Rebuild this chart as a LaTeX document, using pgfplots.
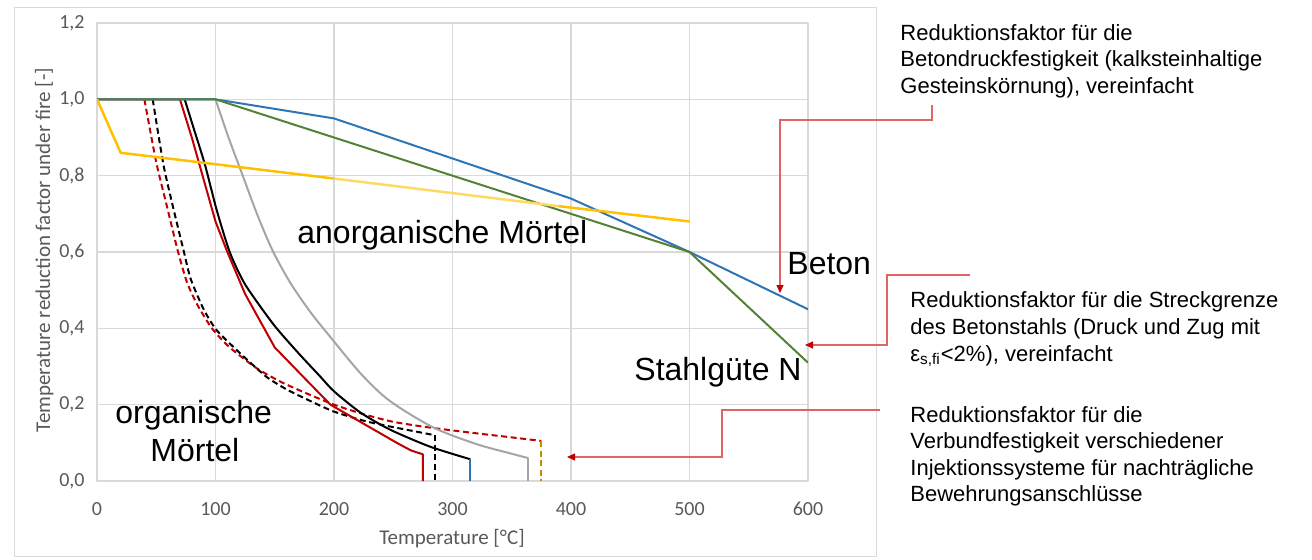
\documentclass[border=0pt]{standalone}
\usepackage{fontspec}
\setmainfont{Liberation Sans}
\newfontfamily\calibri{Carlito}
\usepackage{pgfplots}
\pgfplotsset{compat=1.18}
\usetikzlibrary{arrows.meta}
\definecolor{gridgray}{HTML}{D9D9D9}
\definecolor{ticktext}{HTML}{595959}
\definecolor{xlblue}{HTML}{2E75B6}
\definecolor{xlgreen}{HTML}{548235}
\definecolor{xlyellow}{HTML}{FFC000}
\definecolor{xlpale}{HTML}{FFD966}
\definecolor{xlred}{HTML}{C00000}
\definecolor{xlgray}{HTML}{A5A5A5}
\definecolor{xlochre}{HTML}{BF8F00}
\definecolor{calloutline}{HTML}{E06666}

\begin{document}
\begin{tikzpicture}
\path[use as bounding box] (0,0) rectangle (656pt,279.5pt);
\draw[gridgray, line width=0.5pt] (7pt,1.5pt) rectangle (438pt,276pt);
\begin{axis}[
  at={(48.5pt,39pt)}, anchor=south west,
  scale only axis, width=355.5pt, height=229pt,
  xmin=0, xmax=600, ymin=0, ymax=1.2,
  xtick={0,100,200,300,400,500,600},
  ytick={0,0.2,0.4,0.6,0.8,1.0,1.2},
  grid=major,
  major grid style={gridgray, line width=0.75pt},
  axis line style={gridgray, line width=0.75pt},
  major tick length=0pt,
  /pgf/number format/assume math mode=true,
  tick label style={font=\calibri\fontsize{10}{12}\selectfont, text=ticktext},
  xticklabel style={yshift=-7pt},
  yticklabel style={xshift=-2.7pt, /pgf/number format/.cd, use comma, fixed, fixed zerofill, precision=1},
  line join=round,
  dashed mortar/.style={line width=1pt, dash pattern=on 3pt off 1.8pt},
]
% organic mortars (dashed)
\addplot[xlred, dashed mortar] coordinates {(0,1) (40,1)};
\addplot[xlred, dashed mortar, smooth, tension=0.4] coordinates {
  (40,1) (50,0.835) (59,0.72) (68,0.605) (76,0.52) (85,0.46) (97,0.40)
  (112,0.35) (135,0.295) (155,0.26) (175,0.232) (200,0.2) (225,0.175)
  (250,0.155) (281,0.14) (320,0.125) (348,0.115) (375,0.105)};
\addplot[black, dashed mortar] coordinates {(0,1) (47,1)};
\addplot[black, dashed mortar, smooth, tension=0.4] coordinates {
  (47,1) (56,0.83) (64,0.72) (73,0.605) (79,0.53) (90,0.45) (101,0.395)
  (121,0.334) (143,0.273) (160,0.24) (175,0.217) (199,0.183) (225,0.158)
  (247,0.143) (285,0.12)};
\addplot[black, dashed mortar] coordinates {(285,0.12) (285,0)};
\addplot[xlochre, dashed mortar] coordinates {(375,0.105) (375,0)};
% inorganic mortars
\addplot[xlred, line width=1pt] coordinates {
  (0,1) (70,1) (80,0.9) (90,0.79) (100,0.68) (110,0.6) (125,0.49) (150,0.35)
  (175,0.27) (197,0.2) (225,0.15) (253,0.1) (265,0.08) (275,0.07) (275,0)};
\addplot[black, line width=1pt] coordinates {(0,1) (74,1)};
\addplot[black, line width=1pt, smooth, tension=0.4] coordinates {
  (74,1) (82,0.92) (91,0.83) (101,0.71) (112,0.6) (125,0.515) (149,0.41)
  (170,0.335) (188,0.275) (200,0.235) (222,0.18) (247,0.135) (281,0.09) (315,0.057)};
\addplot[xlblue, line width=1pt] coordinates {(315,0.057) (315,0)};
\addplot[xlgray, line width=1pt] coordinates {(0,1) (100,1)};
\addplot[xlgray, line width=1pt, smooth, tension=0.5] coordinates {
  (100,1) (111,0.9) (123,0.8) (135,0.7) (148,0.605) (163,0.52)
  (180,0.443) (197,0.377) (223,0.28) (247,0.21) (284,0.14) (320,0.097)
  (348,0.073) (364,0.06)};
\addplot[xlgray, line width=1pt] coordinates {(364,0.06) (364,0)};
% concrete and steel
\addplot[xlblue, line width=1pt] coordinates {
  (0,1) (100,1) (200,0.95) (400,0.74) (500,0.6) (600,0.45)};
\addplot[xlgreen, line width=1pt] coordinates {
  (0,1) (100,1) (500,0.6) (600,0.31)};
\addplot[xlyellow, line width=1.25pt] coordinates {(0,1) (20,0.86) (200,0.7925)};
\addplot[xlpale, line width=1.25pt] coordinates {(200,0.7925) (390,0.72)};
\addplot[xlyellow, line width=1.25pt] coordinates {(390,0.72) (500,0.68)};
\end{axis}

\begin{scope}[x=0.5pt, y=0.5pt]
% axis titles
\node[anchor=base, inner sep=0, font=\calibri\fontsize{10.5}{12}\selectfont, text=ticktext] at (452,15) {Temperature [°C]};
\node[anchor=base, rotate=90, inner sep=0, font=\calibri\fontsize{10.5}{12}\selectfont, text=ticktext] at (50,309) {Temperature reduction factor under fire [-]};
% labels in the plot
\begin{scope}[every node/.style={anchor=base west, inner sep=0, font=\fontsize{16}{19}\selectfont}]
\node at (297,316) {anorganische Mörtel};
\node at (787,285) {Beton};
\node at (634,179) {Stahlgüte N};
\node at (115,136) {organische};
\node at (150,98) {Mörtel};
\end{scope}
% callout texts
\begin{scope}[every node/.style={anchor=base west, inner sep=0, font=\fontsize{11}{13}\selectfont}]
\node at (900,519) {Reduktionsfaktor für die};
\node at (900,493) {Betondruckfestigkeit (kalksteinhaltige};
\node at (900,466) {Gesteinskörnung), vereinfacht};
\node at (910,252) {Reduktionsfaktor für die Streckgrenze};
\node at (910,225) {des Betonstahls (Druck und Zug mit};
\node at (910,198) {ε\textsubscript{s,fi}<2\%), vereinfacht};
\node at (910,137) {Reduktionsfaktor für die};
\node at (910,111) {Verbundfestigkeit verschiedener};
\node at (910,84) {Injektionssysteme für nachträgliche};
\node at (910,58) {Bewehrungsanschlüsse};
\end{scope}
% callout arrows
\begin{scope}[calloutline, line width=0.6pt, -{Triangle[length=4pt, width=3.5pt, color=xlred]}]
\draw (932,454) -- (932,439) -- (780,439) -- (780,266);
\draw (970,284) -- (887,284) -- (887,214) -- (805,214);
\draw (880,149) -- (722,149) -- (722,102) -- (567,102);
\end{scope}
\end{scope}
\end{tikzpicture}
\end{document}
